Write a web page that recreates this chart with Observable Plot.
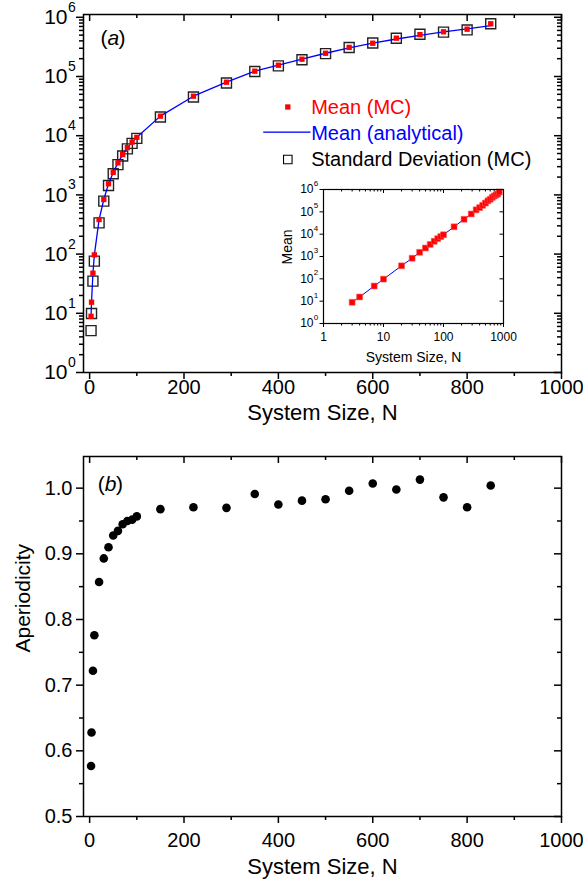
<!DOCTYPE html>
<html><head><meta charset="utf-8">
<script src="https://cdn.jsdelivr.net/npm/d3@7"></script>
<script src="https://cdn.jsdelivr.net/npm/@observablehq/plot@0.6"></script>
<style>
body{margin:0;background:#fff;}
#wrap{position:relative;width:583px;height:886px;}
#inset{position:absolute;left:270px;top:180px;}
svg{display:block;}
</style></head><body><div id="wrap"><div id="a"></div><div id="b"></div><div id="inset"></div></div>
<script>
// ---- data ----
const sizes = [3,4,7,10,20,30,40,50,60,70,80,90,100,150,220,290,350,400,450,500,550,600,650,700,750,800,850];
const meanMC = [8.9,15.4,47.6,97,383,836,1540,2400,3480,4800,6300,7800,9400,21400,46500,80100,123000,155000,196000,247000,310000,365000,444000,510000,569000,630000,777000];
const meanAnalytical = [8.9,15.4,47.6,97,383,836,1540,2400,3480,4800,6300,7800,9400,21400,46500,80100,123000,155000,196000,247000,305000,365000,430000,495000,565000,635000,722000];
const stdMC = [5.1,9.9,35,76,337,786,1440,2280,3250,4540,5985,7430,9000,20700,45100,77700,121800,151000,192000,243000,309000,367000,443000,516000,561000,612000,780000];
const aperiodicity = [0.577,0.628,0.722,0.776,0.857,0.893,0.910,0.928,0.935,0.945,0.950,0.952,0.957,0.968,0.971,0.970,0.991,0.975,0.981,0.983,0.996,1.007,0.998,1.013,0.986,0.971,1.004];
const xTicksMajor = [0,200,400,600,800,1000];
const xTicksMinor = [100,300,500,700,900];
const logDecades = [0,1,2,3,4,5,6];
const insetXTicks = [1,10,100,1000];
const bTicksMajor = [0.5,0.6,0.7,0.8,0.9,1.0];
const bTicksMinor = [0.55,0.65,0.75,0.85,0.95];
const legendLabels = ["Mean (MC)","Mean (analytical)","Standard Deviation (MC)"];

const rows = sizes.map((N,i)=>({N, mean: meanMC[i], ana: meanAnalytical[i], std: stdMC[i], aper: aperiodicity[i]}));
const logMajor = logDecades.map(d=>10**d);
const logMinorA = [];
for (let k=0;k<6;k++) for (let m=2;m<=9;m++) logMinorA.push(m*10**k);
const insetXMinor = [];
for (let k=0;k<3;k++) for (let m=2;m<=9;m++) insetXMinor.push(m*10**k);

const FONT = "'Liberation Sans', Arial, Helvetica, sans-serif";
const W=583, ML=83, MR=22;
const FW = W-ML-MR;
const RED="#ff0000", BLUE="#0000ff";
const MID = {lineAnchor: "middle"};

// ---- panel (a) ----
const A_H=430, A_MT=14, A_MB=58, aFH=A_H-A_MT-A_MB;
const plotA = Plot.plot({
  width: W, height: A_H, marginLeft: ML, marginRight: MR, marginTop: A_MT, marginBottom: A_MB,
  style: {fontFamily: FONT, background: "transparent", overflow: "visible", color: "black"},
  x: {domain: [-13, 1000]},
  y: {type: "log", domain: [1, 1.115e6]},
  marks: [
    Plot.axisX({ticks: xTicksMajor, tickSize: 7, tickPadding: 0, fontSize: 20, tickFormat: d3.format("d"), label: null, strokeWidth: 1.5}),
    Plot.axisX({ticks: xTicksMinor, tickSize: 4, tickFormat: () => "", label: null, strokeWidth: 1.5}),
    Plot.ruleX(xTicksMajor, {x: d=>d, insetBottom: aFH-7, strokeWidth: 1.5}),
    Plot.ruleX(xTicksMinor, {x: d=>d, insetBottom: aFH-4, strokeWidth: 1.5}),
    Plot.axisY({ticks: logMajor, tickSize: 7, tickFormat: () => "", label: null, strokeWidth: 1.5}),
    Plot.axisY({ticks: logMinorA, tickSize: 4, tickFormat: () => "", label: null, strokeWidth: 1.5}),
    Plot.ruleY(logMajor, {y: d=>d, insetLeft: FW-7, strokeWidth: 1.5}),
    Plot.ruleY(logMinorA, {y: d=>d, insetLeft: FW-4, strokeWidth: 1.5}),
    Plot.text(logDecades, {...MID, y: d=>10**d, text: () => "10", frameAnchor: "left", textAnchor: "end", dx: -16, fontSize: 21}),
    Plot.text(logDecades, {...MID, y: d=>10**d, text: d=>String(d), frameAnchor: "left", textAnchor: "start", dx: -15.5, dy: -10, fontSize: 14}),
    Plot.text(["System Size, N"], {...MID, text: d=>d, frameAnchor: "bottom", dy: 40, fontSize: 22}),
    Plot.text(["("], {...MID, text: d=>d, frameAnchor: "top-left", textAnchor: "start", dx: 17, dy: 24, fontSize: 21}),
    Plot.text(["a"], {...MID, text: d=>d, frameAnchor: "top-left", textAnchor: "start", dx: 24, dy: 24, fontSize: 21, fontStyle: "italic"}),
    Plot.text([")"], {...MID, text: d=>d, frameAnchor: "top-left", textAnchor: "start", dx: 35, dy: 24, fontSize: 21}),
    // data
    Plot.dot(rows, {x: "N", y: "std", symbol: "square", r: 5.64, fill: "none", stroke: "#222", strokeWidth: 1.4}),
    Plot.line(rows, {x: "N", y: "ana", stroke: BLUE, strokeWidth: 1.3}),
    Plot.dot(rows, {x: "N", y: "mean", symbol: "square", r: 3.0, fill: RED, stroke: "none"}),
    // legend
    Plot.dot([0], {frameAnchor: "top-left", dx: 204.3, dy: 92.5, symbol: "square", r: 3.0, fill: RED, stroke: "none"}),
    Plot.frame({fill: BLUE, stroke: "none", insetLeft: 179.7, insetRight: 251, insetTop: 117, insetBottom: aFH-118.3}),
    Plot.dot([0], {frameAnchor: "top-left", dx: 204.3, dy: 145, symbol: "square", r: 4.8, fill: "none", stroke: "black", strokeWidth: 1.1}),
    Plot.text([legendLabels[0]], {...MID, text: d=>d, frameAnchor: "top-left", textAnchor: "start", dx: 227.7, dy: 92.7, fontSize: 20, fill: RED}),
    Plot.text([legendLabels[1]], {...MID, text: d=>d, frameAnchor: "top-left", textAnchor: "start", dx: 227.7, dy: 118.7, fontSize: 20, fill: BLUE}),
    Plot.text([legendLabels[2]], {...MID, text: d=>d, frameAnchor: "top-left", textAnchor: "start", dx: 227.7, dy: 145, fontSize: 20, fill: "black"}),
    Plot.frame({stroke: "black", strokeWidth: 1.5})
  ]
});
document.getElementById("a").appendChild(plotA);

// ---- inset ----
const I_W=250, I_H=190, I_ML=53, I_MR=17, I_MT=9, I_MB=47;
const iFW=I_W-I_ML-I_MR, iFH=I_H-I_MT-I_MB;
const plotI = Plot.plot({
  width: I_W, height: I_H, marginLeft: I_ML, marginRight: I_MR, marginTop: I_MT, marginBottom: I_MB,
  style: {fontFamily: FONT, background: "transparent", overflow: "visible", color: "black"},
  x: {type: "log", domain: [1, 1000]},
  y: {type: "log", domain: [1, 1e6]},
  marks: [
    Plot.axisX({ticks: insetXTicks, tickSize: 4, tickPadding: 5, fontSize: 12, tickFormat: d3.format("d"), label: null, strokeWidth: 1}),
    Plot.axisX({ticks: insetXMinor, tickSize: 2.5, tickFormat: () => "", label: null, strokeWidth: 1}),
    Plot.ruleX(insetXTicks, {x: d=>d, insetBottom: iFH-4, strokeWidth: 1}),
    Plot.ruleX(insetXMinor, {x: d=>d, insetBottom: iFH-2.5, strokeWidth: 1}),
    Plot.axisY({ticks: logMajor, tickSize: 3.5, tickFormat: () => "", label: null, strokeWidth: 1}),
    Plot.ruleY(logMajor, {y: d=>d, insetLeft: iFW-3.5, strokeWidth: 1}),
    Plot.text(logDecades, {...MID, y: d=>10**d, text: () => "10", frameAnchor: "left", textAnchor: "end", dx: -10, fontSize: 12}),
    Plot.text(logDecades, {...MID, y: d=>10**d, text: d=>String(d), frameAnchor: "left", textAnchor: "start", dx: -9.7, dy: -6, fontSize: 8}),
    Plot.text(["System Size, N"], {...MID, text: d=>d, frameAnchor: "bottom", dy: 33.7, fontSize: 14}),
    Plot.text(["Mean"], {...MID, text: d=>d, frameAnchor: "left", dx: -36.3, dy: 8, rotate: -90, fontSize: 14}),
    Plot.line(rows, {x: "N", y: "ana", stroke: BLUE, strokeWidth: 1}),
    Plot.dot(rows, {x: "N", y: "mean", symbol: "square", r: 3.3, fill: RED, stroke: "#ff5050", strokeWidth: 0.6}),
    Plot.frame({stroke: "black", strokeWidth: 1.2})
  ]
});
document.getElementById("inset").appendChild(plotI);

// ---- panel (b) ----
const B_H=456, B_MT=26, B_MB=70, bFH=B_H-B_MT-B_MB;
const plotB = Plot.plot({
  width: W, height: B_H, marginLeft: ML, marginRight: MR, marginTop: B_MT, marginBottom: B_MB,
  style: {fontFamily: FONT, background: "transparent", overflow: "visible", color: "black"},
  x: {domain: [-13, 1000]},
  y: {domain: [0.5, 0.5 + bFH/656.7]},
  marks: [
    Plot.axisX({ticks: xTicksMajor, tickSize: 7, tickPadding: 9, fontSize: 20, tickFormat: d3.format("d"), label: null, strokeWidth: 1.5}),
    Plot.axisX({ticks: xTicksMinor, tickSize: 4, tickFormat: () => "", label: null, strokeWidth: 1.5}),
    Plot.ruleX(xTicksMajor, {x: d=>d, insetBottom: bFH-7, strokeWidth: 1.5}),
    Plot.ruleX(xTicksMinor, {x: d=>d, insetBottom: bFH-4, strokeWidth: 1.5}),
    Plot.axisY({ticks: bTicksMajor, tickSize: 7, tickPadding: 4, fontSize: 20, tickFormat: d3.format(".1f"), label: null, strokeWidth: 1.5}),
    Plot.axisY({ticks: bTicksMinor, tickSize: 4, tickFormat: () => "", label: null, strokeWidth: 1.5}),
    Plot.ruleY(bTicksMajor, {y: d=>d, insetLeft: FW-7, strokeWidth: 1.5}),
    Plot.ruleY(bTicksMinor, {y: d=>d, insetLeft: FW-4, strokeWidth: 1.5}),
    Plot.text(["System Size, N"], {...MID, text: d=>d, frameAnchor: "bottom", dy: 50, fontSize: 22}),
    Plot.text(["Aperiodicity"], {...MID, text: d=>d, frameAnchor: "left", dx: -60, dy: 16, rotate: -90, fontSize: 21}),
    Plot.text(["("], {...MID, text: d=>d, frameAnchor: "top-left", textAnchor: "start", dx: 14.3, dy: 28, fontSize: 21}),
    Plot.text(["b"], {...MID, text: d=>d, frameAnchor: "top-left", textAnchor: "start", dx: 21.3, dy: 28, fontSize: 21, fontStyle: "italic"}),
    Plot.text([")"], {...MID, text: d=>d, frameAnchor: "top-left", textAnchor: "start", dx: 32.5, dy: 28, fontSize: 21}),
    Plot.dot(rows, {x: "N", y: "aper", r: 4.3, fill: "black", stroke: "none"}),
    Plot.frame({stroke: "black", strokeWidth: 1.5})
  ]
});
document.getElementById("b").appendChild(plotB);
</script></body></html>
